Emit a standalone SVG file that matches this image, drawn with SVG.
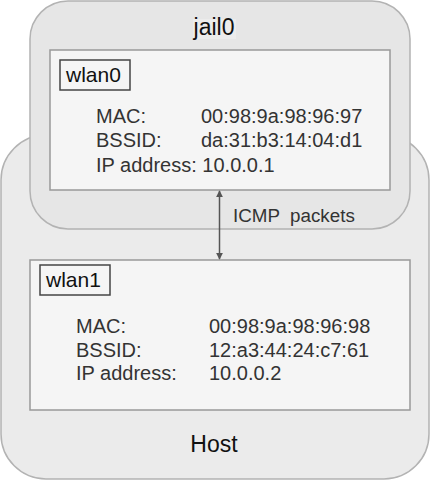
<svg xmlns="http://www.w3.org/2000/svg" width="431" height="481" viewBox="0 0 431 481">
<style>
.outer{fill:#ebebeb;stroke:#b3b3b3;stroke-width:1.5}
.jail{fill:#e6e6e6;stroke:#b3b3b3;stroke-width:1.5}
.iface{fill:#f5f5f5;stroke:#999;stroke-width:1.5}
.tag{fill:none;stroke:#444;stroke-width:1.5}
text{font-family:"Liberation Sans",Arial,sans-serif}
.big{font-size:23px;fill:#111;text-anchor:middle}
.name{font-size:21px;fill:#111}
.info{font-size:20px;fill:#333}
.lbl{font-size:18.8px;fill:#333;white-space:pre}
</style>
<defs>
<marker id="ah" viewBox="0 0 10 10" refX="9" refY="5" markerWidth="7" markerHeight="7" orient="auto-start-reverse" markerUnits="userSpaceOnUse">
<path d="M0,0 L10,5 L0,10 z" fill="#555"/>
</marker>
</defs>
<g id="host">
<rect class="outer" x="1" y="135" width="428" height="344" rx="45"/>
<text class="big" x="214" y="452">Host</text>
</g>
<g id="jail0">
<rect class="jail" x="30" y="1" width="380" height="228" rx="38"/>
<rect x="193" y="19" width="43" height="20" fill="#ececec"/>
<text class="big" x="214" y="35">jail0</text>
</g>
<g id="wlan0">
<rect class="iface" x="50" y="50" width="340" height="140"/>
<rect class="tag" x="60" y="60" width="70" height="30"/>
<text class="name" x="66" y="82">wlan0</text>
<text class="info" x="96" y="122.5">MAC:</text>
<text class="info" x="201" y="122.5">00:98:9a:98:96:97</text>
<text class="info" x="96" y="147">BSSID:</text>
<text class="info" x="201" y="147">da:31:b3:14:04:d1</text>
<text class="info" x="96" y="171.5">IP address: 10.0.0.1</text>
</g>
<g id="wlan1">
<rect class="iface" x="30" y="260" width="380" height="150"/>
<rect class="tag" x="40" y="265" width="70" height="30"/>
<text class="name" x="46" y="287">wlan1</text>
<text class="info" x="76" y="333">MAC:</text>
<text class="info" x="209" y="333">00:98:9a:98:96:98</text>
<text class="info" x="76" y="356.5">BSSID:</text>
<text class="info" x="209" y="356.5">12:a3:44:24:c7:61</text>
<text class="info" x="76" y="380">IP address:</text>
<text class="info" x="209" y="380">10.0.0.2</text>
</g>
<g id="connectors">
<line x1="219.5" y1="191" x2="219.5" y2="259" stroke="#555" stroke-width="1.5" marker-start="url(#ah)" marker-end="url(#ah)"/>
<text class="lbl" x="233" y="222">ICMP  packets</text>
</g>
</svg>
